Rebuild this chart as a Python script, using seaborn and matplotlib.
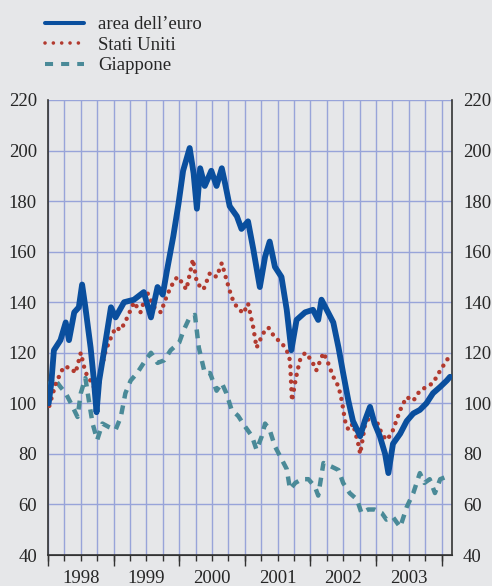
import numpy as np
import pandas as pd
import matplotlib
matplotlib.use("Agg")
import matplotlib.pyplot as plt
import seaborn as sns
from matplotlib.lines import Line2D

# --- values (x in decimal years, index 1998 = 100) ---
EURO_T = [0.01, 0.05, 0.09, 0.19, 0.27, 0.32, 0.40, 0.47, 0.52, 0.57, 0.65, 0.70, 0.74, 0.78,
          0.85, 0.96, 1.03, 1.16, 1.31, 1.46, 1.57, 1.67, 1.75, 1.81, 1.91, 1.99, 2.06, 2.16,
          2.22, 2.27, 2.32, 2.39, 2.49, 2.57, 2.65, 2.70, 2.77, 2.88, 2.95, 3.05, 3.13, 3.23,
          3.31, 3.38, 3.46, 3.56, 3.64, 3.71, 3.79, 3.92, 4.04, 4.12, 4.17, 4.25, 4.35, 4.43,
          4.50, 4.58, 4.65, 4.76, 4.83, 4.91, 4.98, 5.06, 5.14, 5.19, 5.26, 5.37, 5.47, 5.57,
          5.67, 5.77, 5.87, 5.98, 6.08, 6.13]
EURO_V = [100, 108, 121, 125, 132, 125, 136, 138, 147, 138, 122, 109, 96.5, 109,
          120, 138, 134, 140, 141, 144, 134, 146, 143, 152, 166, 179, 192, 201,
          191, 177, 193, 186, 192, 186, 193, 187, 178, 174, 169, 172, 161, 146,
          158, 164, 154, 150, 137, 121, 133, 136, 137, 133, 141, 137, 132, 122,
          112, 101, 93, 87, 93, 98.6, 92, 87, 80, 72.4, 84, 88, 93, 96,
          97.4, 100, 104, 106.5, 109, 110.5]

USA_T = [0.02, 0.12, 0.24, 0.35, 0.42, 0.50, 0.55, 0.60, 0.68, 0.73, 0.75, 0.80, 0.88, 0.96,
         1.03, 1.11, 1.21, 1.31, 1.41, 1.51, 1.62, 1.72, 1.79, 1.87, 1.97, 2.01, 2.11, 2.21,
         2.27, 2.37, 2.47, 2.57, 2.65, 2.72, 2.80, 2.88, 2.98, 3.05, 3.13, 3.18, 3.28, 3.36,
         3.46, 3.56, 3.64, 3.69, 3.72, 3.78, 3.84, 3.92, 4.02, 4.09, 4.20, 4.27, 4.35, 4.43,
         4.48, 4.53, 4.58, 4.65, 4.73, 4.76, 4.83, 4.91, 5.01, 5.09, 5.16, 5.24, 5.31, 5.39,
         5.47, 5.57, 5.67, 5.77, 5.87, 5.98, 6.08, 6.13]
USA_V = [99, 108, 114.5, 114, 112, 120, 114.5, 110.5, 108, 104, 100, 112, 121, 126,
         130, 129, 134, 140, 136, 144, 138, 136, 141, 146, 150, 149, 145, 157,
         147.6, 145, 151.6, 150, 155.5, 149, 142, 138, 135.6, 139.5, 130, 122, 127.7, 130,
         126, 124, 121, 117, 101, 110, 117, 120, 117, 113, 120, 116, 110.5, 106.6,
         101, 93, 89.5, 92, 84, 80, 91, 95, 93, 88, 85.5, 88, 93, 98.6,
         102.5, 101, 105, 106.5, 108, 113, 117, 119]

JAPAN_T = [0.01, 0.03, 0.09, 0.19, 0.27, 0.35, 0.45, 0.50, 0.57, 0.63, 0.68, 0.75, 0.83, 0.93,
           1.03, 1.11, 1.18, 1.26, 1.36, 1.46, 1.57, 1.67, 1.77, 1.87, 2.00, 2.07, 2.16, 2.24,
           2.30, 2.39, 2.47, 2.57, 2.65, 2.72, 2.80, 2.90, 3.00, 3.11, 3.18, 3.26, 3.31, 3.38,
           3.46, 3.54, 3.64, 3.69, 3.77, 3.87, 3.97, 4.07, 4.12, 4.20, 4.32, 4.43, 4.50, 4.60,
           4.71, 4.78, 4.88, 4.98, 5.09, 5.16, 5.26, 5.37, 5.47, 5.57, 5.67, 5.74, 5.82, 5.90,
           5.98, 6.08, 6.13]
JAPAN_V = [100, 108, 110, 106.5, 104, 100, 94.6, 104, 110, 100, 92, 85.5, 92, 90.6,
           89.5, 94.6, 104, 109, 112, 116, 120, 116, 117, 121, 124, 129, 134, 135,
           122, 112, 112, 105, 108, 104, 97.4, 95, 91, 87, 81.6, 87, 92, 89.5,
           83, 79, 74, 66, 68.5, 70, 70, 67, 63.5, 76.4, 75, 73.6, 68.5, 64.5,
           62, 56.6, 58, 58, 56.6, 54, 55, 51, 59, 64.5, 72.4, 68.5, 70, 64.5,
           70, 71, 71]

SERIES = ["area dell\u2019euro", "Stati Uniti", "Giappone"]
YEARS = [1998, 1999, 2000, 2001, 2002, 2003]
Y_TICKS = [40, 60, 80, 100, 120, 140, 160, 180, 200, 220]

BG = "#e6e7e9"
GRID = "#98a4d9"
TXT = "#262626"
COLORS = ["#0a4f9e", "#b23a2f", "#4a8a98"]
FS = 13.5

sns.set_style("white")
plt.rcParams["font.family"] = ["Liberation Serif", "DejaVu Serif"]
plt.rcParams["font.size"] = FS

fig = plt.figure(figsize=(4.92, 5.86), dpi=100, facecolor=BG)
ax = fig.add_axes([48 / 492, 1 - 555 / 586, 404 / 492, 455 / 586])
ax.set_facecolor(BG)

# series
euro = pd.DataFrame({"t": 1998 + np.array(EURO_T), "v": EURO_V})
usa = pd.DataFrame({"t": 1998 + np.array(USA_T), "v": USA_V})
jp = pd.DataFrame({"t": 1998 + np.array(JAPAN_T), "v": JAPAN_V})

sns.lineplot(data=jp, x="t", y="v", ax=ax, color=COLORS[2], linewidth=3.2,
             linestyle=(0, (2, 1.6)), zorder=3)
sns.lineplot(data=usa, x="t", y="v", ax=ax, color=COLORS[1], linewidth=3.2,
             linestyle=(0, (0.01, 1.7)), dash_capstyle="round", zorder=4)
sns.lineplot(data=euro, x="t", y="v", ax=ax, color=COLORS[0], linewidth=4.2, zorder=5)

ax.set_xlim(1998, 2004.16)
ax.set_ylim(40, 220)
ax.set_xlabel("")
ax.set_ylabel("")

# quarters: small ticks + vertical grid
quarters = np.arange(1998, 2004.01, 0.25)
ax.set_xticks(quarters)
ax.set_xticklabels([])
ax.tick_params(axis="x", which="major", length=4, width=1, color="#333333", direction="out", bottom=True)
ax.xaxis.grid(True, color=GRID, linewidth=1)

ax.set_yticks(Y_TICKS)
ax.yaxis.grid(True, color=GRID, linewidth=1)
ax.tick_params(axis="y", length=0, left=False, right=False, labelleft=True, labelright=True,
               labelcolor=TXT, labelsize=FS, pad=8)
ax.set_axisbelow(True)

# year ticks and centred year labels
sec = ax.secondary_xaxis("bottom")
sec.set_xticks(list(YEARS) + [2004])
sec.set_xticklabels([])
sec.tick_params(axis="x", which="major", length=8, width=1, color="#333333")
sec.set_xticks([y + 0.5 for y in YEARS], labels=[str(y) for y in YEARS], minor=True)
sec.tick_params(axis="x", which="minor", length=0, pad=11, labelsize=FS, labelcolor=TXT)
sec.spines["bottom"].set_color("#333333")

for side in ["left", "right", "bottom"]:
    ax.spines[side].set_visible(True)
    ax.spines[side].set_color("#333333")
    ax.spines[side].set_linewidth(1.2)
ax.spines["top"].set_visible(False)

handles = [
    Line2D([], [], color=COLORS[0], linewidth=2.9),
    Line2D([], [], color=COLORS[1], linewidth=2.6, linestyle=(0, (0.01, 2.3)), dash_capstyle="round"),
    Line2D([], [], color=COLORS[2], linewidth=2.9, linestyle=(0, (2, 2))),
]
fig.legend(handles, SERIES, loc="upper left", bbox_to_anchor=(45 / 492, 1 - 16 / 586),
           frameon=False, fontsize=FS, handlelength=2.1, handletextpad=0.75,
           labelspacing=0.18, borderpad=0, borderaxespad=0, labelcolor=TXT)

fig.savefig("out.png", dpi=100, facecolor=BG)
